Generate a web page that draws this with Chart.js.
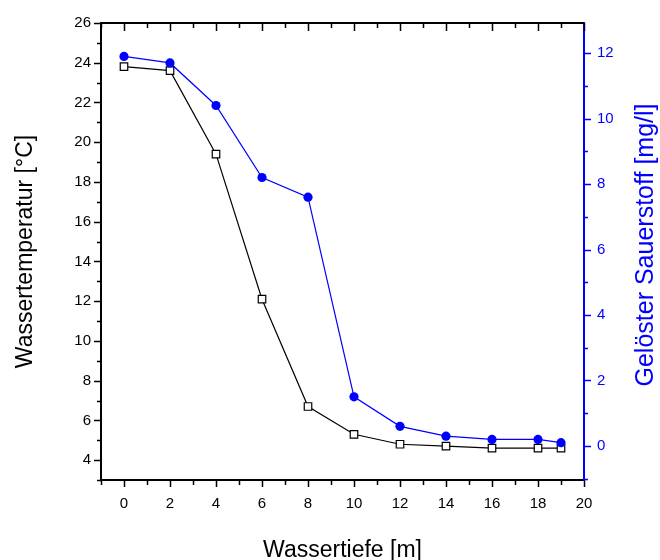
<!DOCTYPE html>
<html>
<head>
<meta charset="utf-8">
<script src="https://cdn.jsdelivr.net/npm/chart.js@4"></script>
<style>
  html, body { margin: 0; padding: 0; background: #fff; }
</style>
</head>
<body>
<canvas id="myChart" width="660" height="560"></canvas>
<script>
let depth = [0, 2, 4, 6, 8, 10, 12, 14, 16, 18, 19];
let temperature = [23.8, 23.6, 19.4, 12.1, 6.7, 5.3, 4.8, 4.7, 4.6, 4.6, 4.6];
let oxygen = [11.9, 11.7, 10.4, 8.2, 7.6, 1.5, 0.6, 0.3, 0.2, 0.2, 0.1];

let depthTicks = [0, 2, 4, 6, 8, 10, 12, 14, 16, 18, 20];
let tempTicks = [4, 6, 8, 10, 12, 14, 16, 18, 20, 22, 24, 26];
let oxygenTicks = [0, 2, 4, 6, 8, 10, 12];

const BLUE = '#0000ff';
Chart.defaults.font.family = "'Liberation Sans', Arial, sans-serif";

// axis frame, minor/major tick marks and the right-hand title
const frameTicks = {
    id: 'frameTicks',
    afterDraw(chart) {
        const { ctx, chartArea: a, scales } = chart;
        ctx.save();
        // top frame line
        ctx.strokeStyle = '#000';
        ctx.lineWidth = 2;
        ctx.beginPath();
        ctx.moveTo(a.left - 1, a.top);
        ctx.lineTo(a.right, a.top);
        ctx.stroke();

        ctx.lineWidth = 1.5;
        ctx.beginPath();
        // bottom (outward) and top (inward) ticks
        for (let v = Math.ceil(scales.x.min); v <= scales.x.max; v++) {
            const px = Math.round(scales.x.getPixelForValue(v)) + 0.5;
            const major = depthTicks.includes(v);
            ctx.moveTo(px, a.bottom);
            ctx.lineTo(px, a.bottom + (major ? 7 : 5));
            ctx.moveTo(px, a.top);
            ctx.lineTo(px, a.top + (major ? 8 : 5));
        }
        // left axis ticks
        for (let v = Math.ceil(scales.y.min); v <= scales.y.max; v++) {
            const py = Math.round(scales.y.getPixelForValue(v)) + 0.5;
            const major = tempTicks.includes(v);
            ctx.moveTo(a.left, py);
            ctx.lineTo(a.left - (major ? 7 : 4), py);
        }
        ctx.stroke();

        // right axis ticks (blue)
        ctx.strokeStyle = BLUE;
        ctx.beginPath();
        for (let v = Math.ceil(scales.y1.min); v <= scales.y1.max; v++) {
            const py = Math.round(scales.y1.getPixelForValue(v)) + 0.5;
            const major = oxygenTicks.includes(v);
            ctx.moveTo(a.right, py);
            ctx.lineTo(a.right + (major ? 7 : 4), py);
        }
        ctx.stroke();

        // right title reads bottom-to-top like the left one
        ctx.fillStyle = BLUE;
        ctx.font = "25px 'Liberation Sans', Arial, sans-serif";
        ctx.textAlign = 'center';
        ctx.textBaseline = 'middle';
        ctx.translate(646, 245);
        ctx.rotate(-Math.PI / 2);
        ctx.fillText('Gelöster Sauerstoff [mg/l]', 0, 0);
        ctx.restore();
    }
};

let data = {
    datasets: [{
        label: 'Wassertemperatur',
        data: depth.map((d, i) => ({ x: d, y: temperature[i] })),
        yAxisID: 'y',
        borderColor: '#000',
        borderWidth: 1.2,
        pointStyle: 'rect',
        pointRadius: 5.3,
        pointBorderWidth: 1.2,
        pointBorderColor: '#000',
        pointBackgroundColor: '#fff',
        order: 1
    }, {
        label: 'Sauerstoff',
        data: depth.map((d, i) => ({ x: d, y: oxygen[i] })),
        yAxisID: 'y1',
        borderColor: BLUE,
        borderWidth: 1.2,
        pointStyle: 'circle',
        pointRadius: 4.6,
        pointBorderWidth: 0,
        pointBackgroundColor: BLUE,
        order: 0
    }]
};

let config = {
    type: 'line',
    data: data,
    options: {
        responsive: false,
        animation: false,
        layout: { padding: { top: 23, left: 0, right: 0, bottom: 0 } },
        plugins: {
            legend: { display: false },
            tooltip: { enabled: false }
        },
        scales: {
            x: {
                type: 'linear',
                position: 'bottom',
                min: -1,
                max: 20,
                afterBuildTicks: s => { s.ticks = depthTicks.map(v => ({ value: v })); },
                afterFit: s => { s.height = 80; },
                grid: { display: false, drawTicks: false },
                border: { display: true, color: '#000', width: 2 },
                ticks: { color: '#000', font: { size: 15 }, padding: 15, maxRotation: 0, autoSkip: false },
                title: {
                    display: true,
                    text: 'Wassertiefe [m]',
                    color: '#000',
                    font: { size: 23, lineHeight: 0.8 },
                    padding: { top: 0, bottom: 0 }
                }
            },
            y: {
                type: 'linear',
                position: 'left',
                min: 3,
                max: 26,
                afterBuildTicks: s => { s.ticks = tempTicks.map(v => ({ value: v })); },
                afterFit: s => { s.width = 101; },
                grid: { display: false, drawTicks: false },
                border: { display: true, color: '#000', width: 2 },
                ticks: { color: '#000', font: { size: 15 }, padding: 10, autoSkip: false },
                title: {
                    display: true,
                    text: 'Wassertemperatur [°C]',
                    color: '#000',
                    font: { size: 23, lineHeight: 0.8 },
                    padding: { top: 16, bottom: 0 }
                }
            },
            y1: {
                type: 'linear',
                position: 'right',
                min: -1.04,
                max: 12.92,
                afterBuildTicks: s => { s.ticks = oxygenTicks.map(v => ({ value: v })); },
                afterFit: s => { s.width = 76; },
                grid: { display: false, drawTicks: false },
                border: { display: true, color: BLUE, width: 2 },
                ticks: { color: BLUE, font: { size: 15 }, padding: 13, autoSkip: false },
                title: { display: false }
            }
        }
    },
    plugins: [frameTicks]
};

let myChart = new Chart(document.getElementById('myChart'), config);
</script>
</body>
</html>
